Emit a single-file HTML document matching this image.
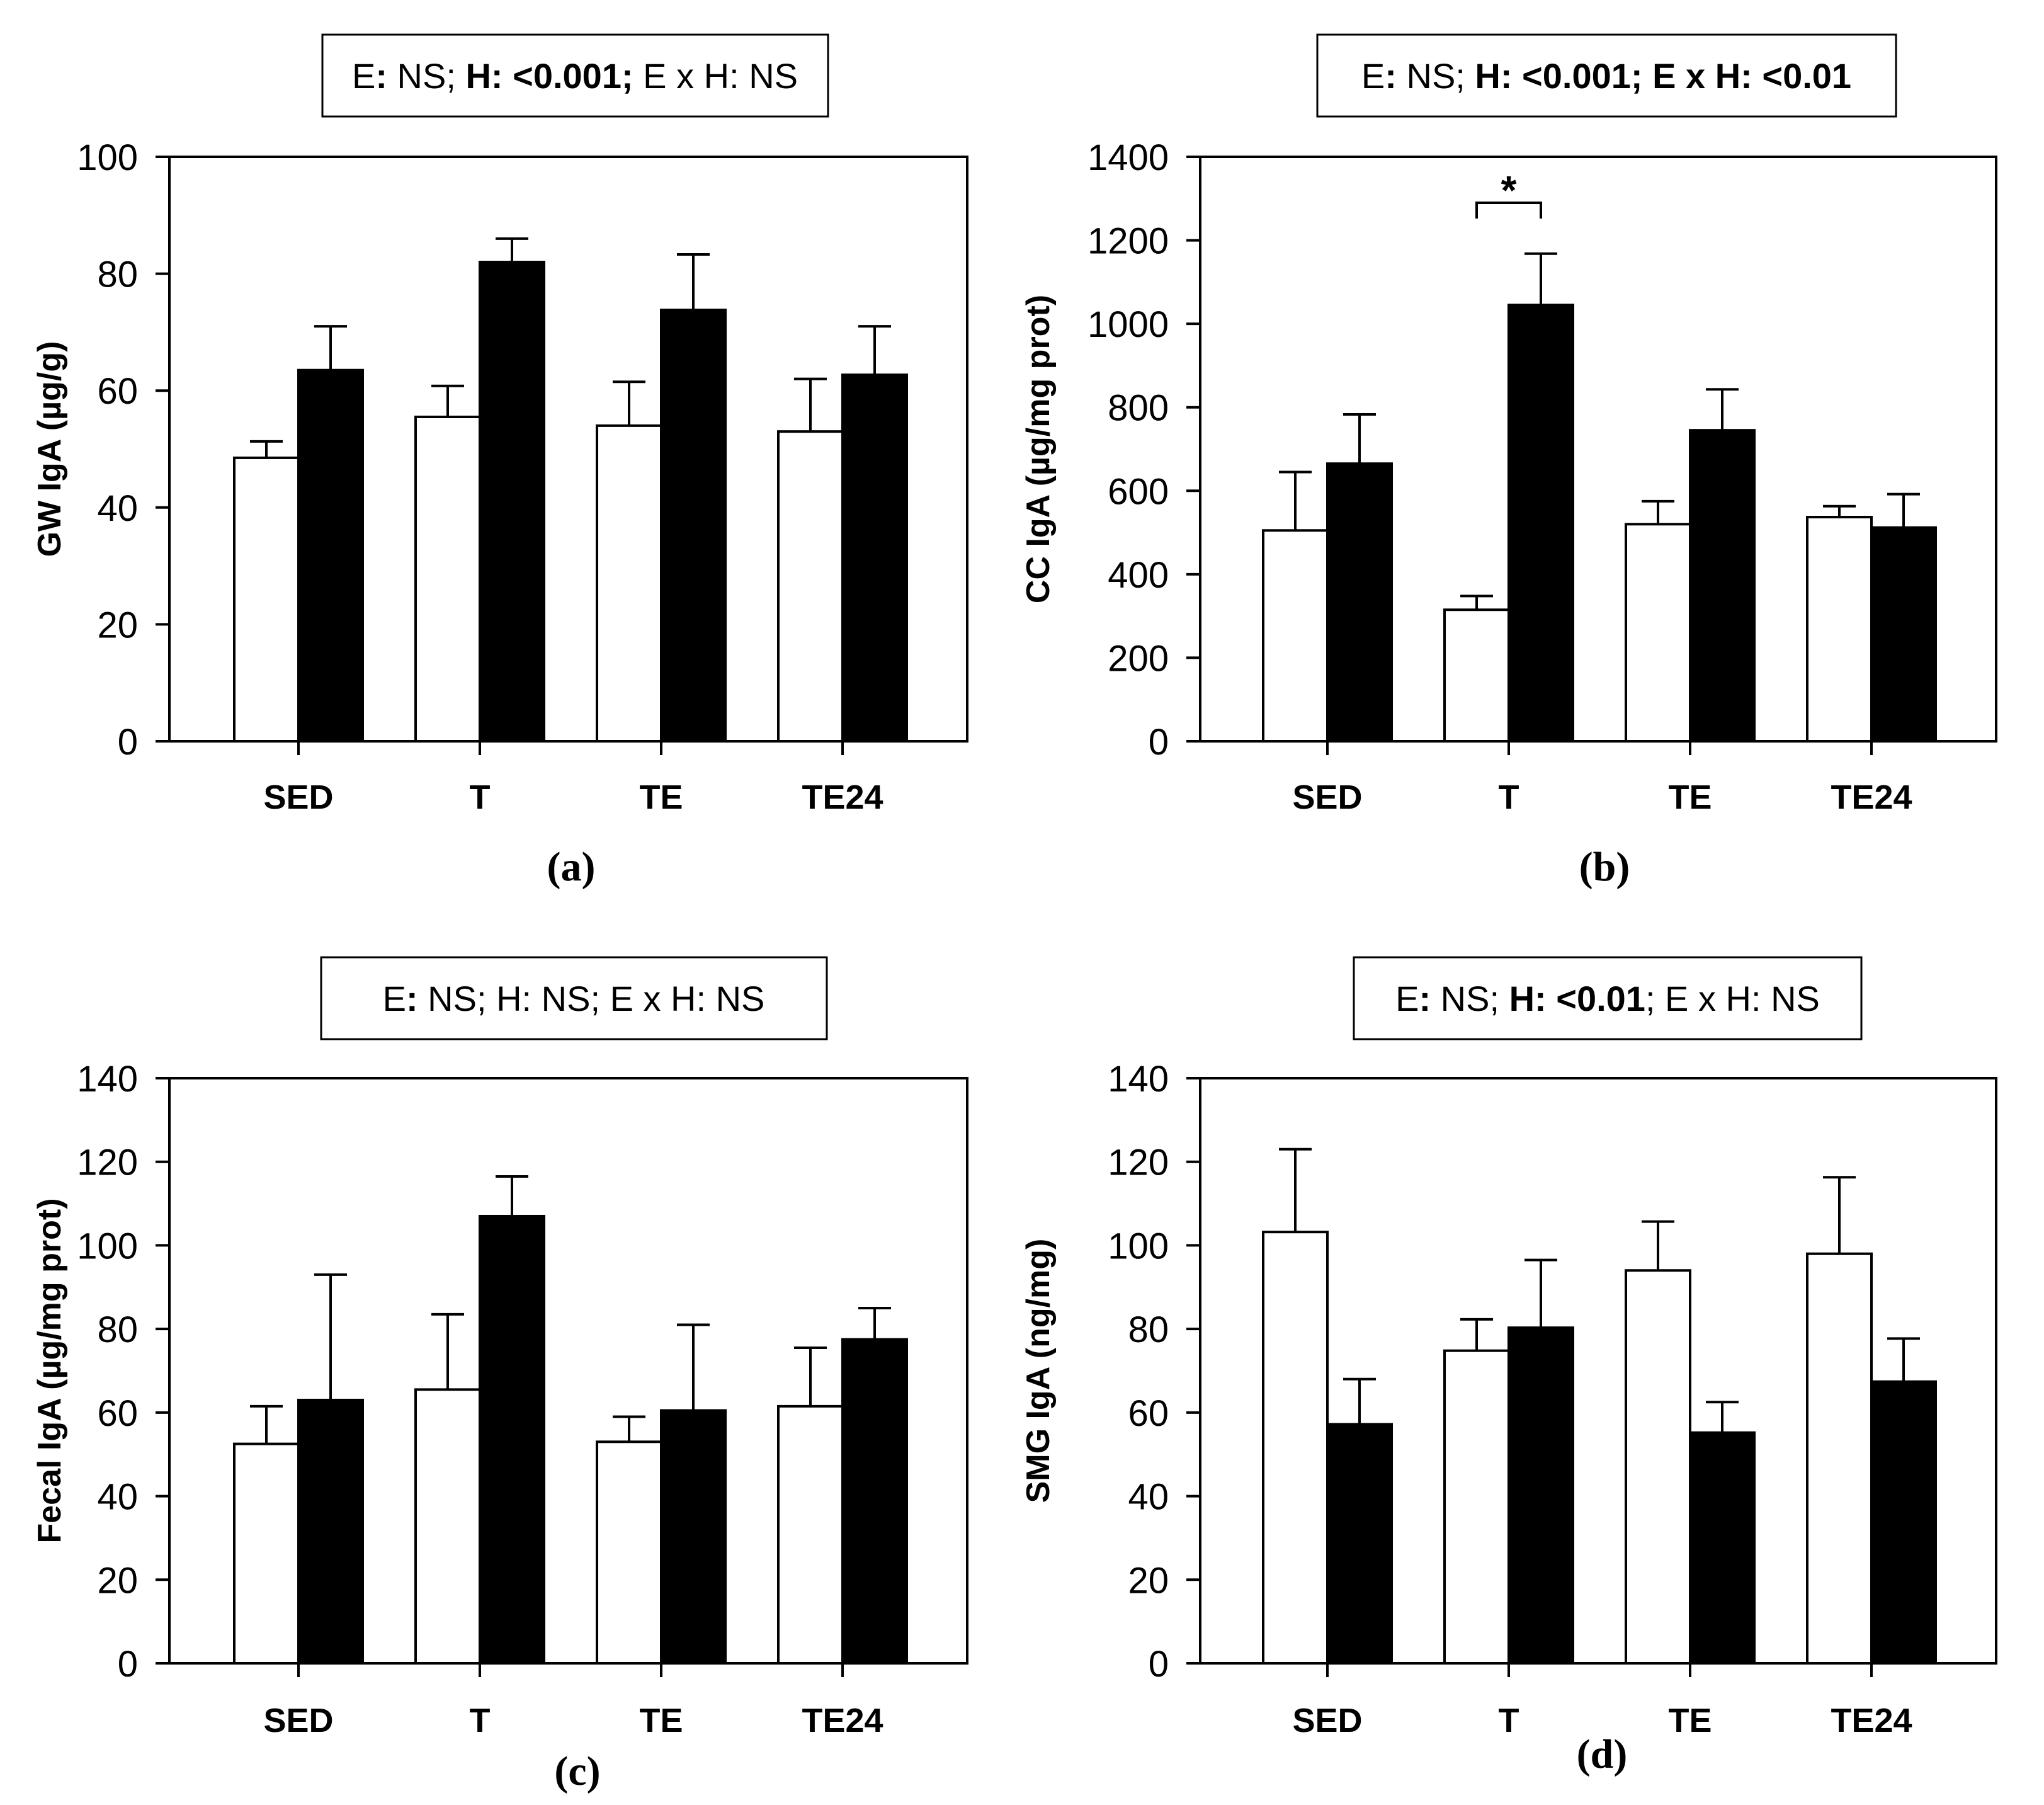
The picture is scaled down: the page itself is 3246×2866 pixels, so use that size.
<!DOCTYPE html>
<html><head><meta charset="utf-8"><style>
html,body{margin:0;padding:0;background:#fff;}
svg{display:block;}
text{font-family:"Liberation Sans",sans-serif;fill:#000;}
</style></head><body>
<svg id="fig" width="3246" height="2866" viewBox="0 0 3246 2866" xmlns="http://www.w3.org/2000/svg">
<rect width="3246" height="2866" fill="#fff"/>
<g>
<rect x="512" y="55" width="803" height="130" fill="#fff" stroke="#000" stroke-width="3"/>
<text x="913" y="140" font-size="56" text-anchor="middle">E<tspan font-weight="bold">:</tspan> NS; <tspan font-weight="bold">H: &lt;0.001;</tspan> E x H: NS</text>
</g>
<g>
<rect x="2092" y="55" width="919" height="130" fill="#fff" stroke="#000" stroke-width="3"/>
<text x="2551" y="140" font-size="56" text-anchor="middle">E<tspan font-weight="bold">:</tspan> NS; <tspan font-weight="bold">H: &lt;0.001; E x H: &lt;0.01</tspan></text>
</g>
<g>
<rect x="510" y="1520" width="803" height="130" fill="#fff" stroke="#000" stroke-width="3"/>
<text x="911" y="1605" font-size="56" text-anchor="middle">E<tspan font-weight="bold">:</tspan> NS; H: NS; E x H: NS</text>
</g>
<g>
<rect x="2150" y="1520" width="806" height="130" fill="#fff" stroke="#000" stroke-width="3"/>
<text x="2553" y="1605" font-size="56" text-anchor="middle">E<tspan font-weight="bold">:</tspan> NS; <tspan font-weight="bold">H: &lt;0.01</tspan>; E x H: NS</text>
</g>
<text x="907" y="1398" font-size="66" font-weight="bold" text-anchor="middle" style="font-family:'Liberation Serif',serif">(a)</text>
<text x="2548" y="1398" font-size="66" font-weight="bold" text-anchor="middle" style="font-family:'Liberation Serif',serif">(b)</text>
<text x="917" y="2834" font-size="66" font-weight="bold" text-anchor="middle" style="font-family:'Liberation Serif',serif">(c)</text>
<text x="2544" y="2807" font-size="66" font-weight="bold" text-anchor="middle" style="font-family:'Liberation Serif',serif">(d)</text>
</svg>
<script>
const categories = ["SED","T","TE","TE24"];
const aWhite = [48.5,55.5,54,53];
const aWhiteErr = [51.3,60.8,61.5,62];
const aBlack = [63.5,82,73.8,62.7];
const aBlackErr = [71,86,83.3,71];
const aTicks = [0,20,40,60,80,100];
const bWhite = [505,315,520,537];
const bWhiteErr = [645,348,575,563];
const bBlack = [665,1045,745,512];
const bBlackErr = [783,1168,843,592];
const bTicks = [0,200,400,600,800,1000,1200,1400];
const cWhite = [52.5,65.5,53,61.5];
const cWhiteErr = [61.5,83.5,59,75.5];
const cBlack = [63,107,60.5,77.5];
const cBlackErr = [93,116.5,81,85];
const cTicks = [0,20,40,60,80,100,120,140];
const dWhite = [103.2,74.8,94,98];
const dWhiteErr = [123,82.3,105.7,116.3];
const dBlack = [57.2,80.3,55.2,67.4];
const dBlackErr = [68,96.5,62.5,77.7];
const dTicks = [0,20,40,60,80,100,120,140];

const NS="http://www.w3.org/2000/svg";
const svg=document.getElementById('fig');
function mk(tag,attrs,parent){const e=document.createElementNS(NS,tag);for(const k in attrs)e.setAttribute(k,attrs[k]);(parent||svg).appendChild(e);return e;}

function panel(id,L,R,T,B,ticks,white,whiteErr,black,blackErr,title,titleX,labelY,x0){
  const g=mk('g',{});
  
  
  const max=ticks[ticks.length-1];
  const y=v=>B-(v/max)*(B-T);
  const step=288;
  const cx=i=>x0+i*step;
  const bw=102;
  function bar(i,v,e,fill,side,name){
    const xl=side<0?cx(i)-bw:cx(i);
    const c=xl+bw/2;
    const eb=mk('line',{x1:c,y1:y(v),x2:c,y2:y(e),stroke:'#000','stroke-width':4},g);
    
    
    const cap=mk('line',{x1:c-26,y1:y(e),x2:c+26,y2:y(e),stroke:'#000','stroke-width':4},g);
    
    
    const r=mk('rect',{x:xl,y:y(v),width:bw,height:B-y(v),fill:fill,stroke:'#000','stroke-width':4},g);
    
    
  }
  categories.forEach((c,i)=>{
    bar(i,white[i],whiteErr[i],'#fff',-1,id+'-'+c.toLowerCase()+'-white');
    bar(i,black[i],blackErr[i],'#000',1,id+'-'+c.toLowerCase()+'-black');
    const tk=mk('line',{x1:cx(i),y1:B,x2:cx(i),y2:B+22,stroke:'#000','stroke-width':4},g);
    
    
    const t=mk('text',{x:cx(i),y:labelY,'font-size':54,'font-weight':'bold','text-anchor':'middle'},g);
    t.textContent=c;
    
    
  });
  const frame=mk('rect',{x:L,y:T,width:R-L,height:B-T,fill:'none',stroke:'#000','stroke-width':4},g);
  
  
  ticks.forEach(v=>{
    const tk=mk('line',{x1:L-22,y1:y(v),x2:L,y2:y(v),stroke:'#000','stroke-width':4},g);
    
    
    const t=mk('text',{x:L-50,y:y(v)+21,'font-size':58,'text-anchor':'end'},g);
    t.textContent=v;
    
    
  });
  const my=(T+B)/2;
  const yt=mk('text',{x:titleX,y:my,'font-size':52,'font-weight':'bold','text-anchor':'middle',transform:`rotate(-90 ${titleX} ${my})`},g);
  yt.textContent=title;
  
  
  return {cx,y,bw,g};
}
panel('a',269,1536,249,1177,aTicks,aWhite,aWhiteErr,aBlack,aBlackErr,'GW IgA (µg/g)',96,1284,474);
const pb=panel('b',1906,3170,249,1177,bTicks,bWhite,bWhiteErr,bBlack,bBlackErr,'CC IgA (µg/mg prot)',1666,1284,2108);
panel('c',269,1536,1712,2641,cTicks,cWhite,cWhiteErr,cBlack,cBlackErr,'Fecal IgA (µg/mg prot)',96,2750,474);
panel('d',1906,3170,1712,2641,dTicks,dWhite,dWhiteErr,dBlack,dBlackErr,'SMG IgA (ng/mg)',1666,2750,2108);
const xl=pb.cx(1)-pb.bw/2, xr=pb.cx(1)+pb.bw/2;
const br=mk('polyline',{points:`${xl},347 ${xl},322 ${xr},322 ${xr},347`,fill:'none',stroke:'#000','stroke-width':4},pb.g);


const st=mk('text',{x:pb.cx(1),y:324,'font-size':64,'font-weight':'bold','text-anchor':'middle'},pb.g);
st.textContent='*';


</script>
</body></html>
